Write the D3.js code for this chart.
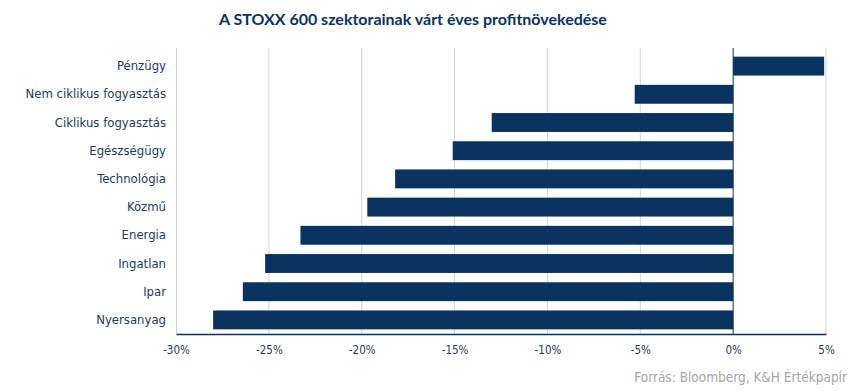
<!DOCTYPE html>
<html><head><meta charset="utf-8">
<script src="https://cdn.jsdelivr.net/npm/d3@7"></script>
<style>body{margin:0;background:#fff}</style>
</head><body><svg id="c" width="850" height="391"></svg>
<script>
const categories = ["Pénzügy","Nem ciklikus fogyasztás","Ciklikus fogyasztás","Egészségügy","Technológia","Közmű","Energia","Ingatlan","Ipar","Nyersanyag"];
const values = [4.9,-5.3,-13.0,-15.1,-18.2,-19.7,-23.3,-25.2,-26.4,-28.0];
const tickValues = [-30,-25,-20,-15,-10,-5,0,5];
const title = "A STOXX 600 szektorainak várt éves profitnövekedése";
const source = "Forrás: Bloomberg,  K&H Értékpapír";

(function(){
const svg = d3.select("#c");
const navy = "#0a3361", textC = "#1c3b5e";
const mL = 176, mR = 826, mT = 52, mB = 334;
const x = d3.scaleLinear().domain([-30,5]).range([mL,mR]);
const y = d3.scaleBand().domain(categories).range([mT,mB]).paddingInner(0.33).paddingOuter(0.165);

svg.append("text").attr("x",413).attr("y",25).attr("text-anchor","middle")
  .attr("font-family","Lato").attr("font-weight","bold").attr("font-size",16).attr("fill",navy).text(title);

// gridlines
svg.append("g").selectAll("line").data(tickValues.filter(d=>d!==-30 && d!==0)).join("line")
  .attr("x1",d=>x(d)).attr("x2",d=>x(d)).attr("y1",mT-4).attr("y2",mB)
  .attr("stroke","#d4d4d4").attr("stroke-width",1);
// left axis line
svg.append("line").attr("x1",mL+0.5).attr("x2",mL+0.5).attr("y1",mT-4).attr("y2",mB).attr("stroke","#cfcfcf");

svg.append("g").selectAll("rect").data(values).join("rect")
  .attr("x",d=>x(Math.min(0,d))).attr("width",d=>Math.abs(x(d)-x(0)))
  .attr("y",(d,i)=>y(categories[i])).attr("height",y.bandwidth()).attr("fill",navy);

// zero line
svg.append("line").attr("x1",x(0)).attr("x2",x(0)).attr("y1",mT-4).attr("y2",mB).attr("stroke",navy).attr("stroke-width",1);

// x axis
const xAxis = d3.axisBottom(x).tickValues(tickValues).tickSize(0).tickPadding(12).tickFormat(d=>d+"%");
const gx = svg.append("g").attr("transform",`translate(0,${mB})`).call(xAxis);
gx.select(".domain").attr("stroke",navy).attr("stroke-width",1.5);
gx.selectAll("text").attr("font-family","DejaVu Sans Condensed").attr("font-size",11.5).attr("fill",textC);

// y axis labels
const yAxis = d3.axisLeft(y).tickSize(0).tickPadding(10);
const gy = svg.append("g").attr("transform",`translate(${mL},0)`).call(yAxis);
gy.select(".domain").remove();
gy.selectAll("text").attr("font-family","DejaVu Sans Condensed").attr("font-size",13).attr("fill",textC);

svg.append("text").attr("x",847).attr("y",382).attr("text-anchor","end")
  .attr("font-family","DejaVu Sans Condensed").attr("font-size",13.5).attr("fill","#a6a6a6").text(source);
})();
</script></body></html>
